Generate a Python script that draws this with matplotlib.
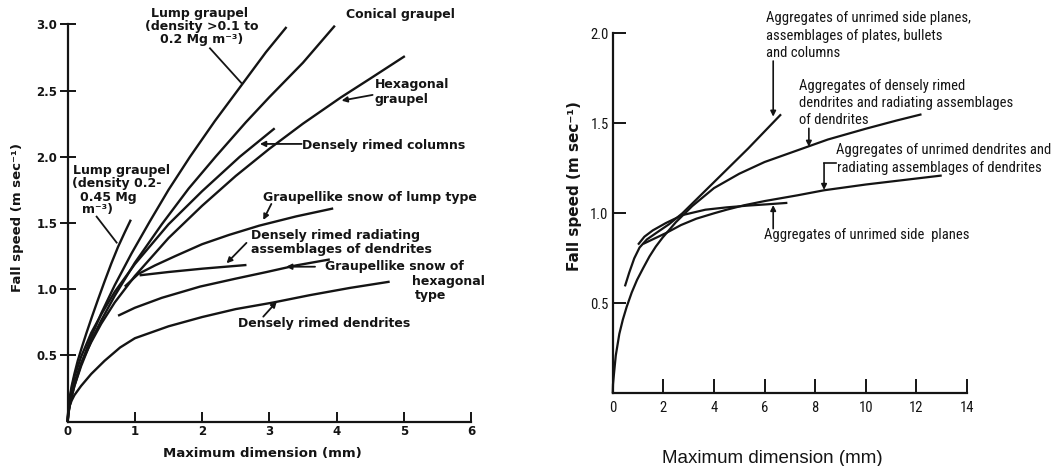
import matplotlib
matplotlib.use("Agg")
import matplotlib.pyplot as plt
from matplotlib import font_manager

# ---------------- data ----------------
# Left panel: fall speed (m/s) vs maximum dimension (mm)
lump_dense_x = [0, 0.01, 0.03, 0.06, 0.1, 0.15, 0.21, 0.28, 0.36, 0.45, 0.55, 0.65, 0.75, 0.85, 0.94]
lump_dense_v = [0, 0.09, 0.18, 0.27, 0.36, 0.46, 0.56, 0.67, 0.79, 0.92, 1.06, 1.195, 1.32, 1.43, 1.525]

lump_light_x = [0, 0.01, 0.03, 0.06, 0.1, 0.2, 0.35, 0.5, 0.7, 0.95, 1.22, 1.5, 1.82, 2.19, 2.6, 2.95, 3.256]
lump_light_v = [0, 0.055, 0.117, 0.19, 0.27, 0.434, 0.64, 0.818, 1.03, 1.27, 1.51, 1.75, 2.0, 2.27, 2.55, 2.79, 2.98]

conical_x = [0, 0.01, 0.03, 0.06, 0.1, 0.2, 0.35, 0.5, 0.7, 1.0, 1.4, 1.8, 2.2, 2.65, 3.0, 3.5, 3.975]
conical_v = [0, 0.06, 0.123, 0.19, 0.269, 0.42, 0.61, 0.765, 0.95, 1.2, 1.49, 1.76, 2.0, 2.26, 2.45, 2.71, 2.99]

hexagonal_x = [0, 0.01, 0.03, 0.06, 0.1, 0.2, 0.35, 0.5, 0.7, 1.0, 1.5, 2.0, 2.5, 3.0, 3.5, 4.07, 4.5, 5.016]
hexagonal_v = [0, 0.08, 0.148, 0.22, 0.296, 0.44, 0.60, 0.74, 0.90, 1.1, 1.386, 1.63, 1.855, 2.06, 2.25, 2.45, 2.59, 2.76]

columns_x = [0, 0.01, 0.03, 0.06, 0.1, 0.2, 0.35, 0.5, 0.7, 1.0, 1.5, 2.0, 2.56, 3.08]
columns_v = [0, 0.094, 0.17, 0.25, 0.34, 0.49, 0.67, 0.81, 0.98, 1.19, 1.49, 1.74, 2.0, 2.215]

gs_lump_x = [0.85, 1.05, 1.3, 1.6, 2.0, 2.4, 2.85, 3.4, 3.95]
gs_lump_v = [1.02, 1.115, 1.18, 1.25, 1.34, 1.41, 1.48, 1.55, 1.61]

rimed_radiating_x = [1.07, 1.5, 2.0, 2.66]
rimed_radiating_v = [1.105, 1.13, 1.155, 1.183]

gs_hex_x = [0.75, 1.0, 1.4, 1.97, 2.5, 2.96, 3.4, 3.9]
gs_hex_v = [0.80, 0.86, 0.935, 1.02, 1.08, 1.13, 1.18, 1.225]

rimed_dendrites_x = [0, 0.01, 0.03, 0.06, 0.1, 0.2, 0.35, 0.55, 0.78, 1.0, 1.5, 2.0, 2.5, 3.06, 3.6, 4.2, 4.79]
rimed_dendrites_v = [0, 0.07, 0.12, 0.16, 0.2, 0.27, 0.36, 0.46, 0.56, 0.63, 0.72, 0.79, 0.85, 0.9, 0.955, 1.01, 1.057]

# Right panel: aggregates
agg_rimed_x = [0, 0.01, 0.05, 0.12, 0.26, 0.4, 0.55, 0.75, 0.96, 1.2, 1.45, 1.7, 1.97, 2.49, 3.14,
               4.0, 5.0, 6.0, 7.3, 8.5, 10.0, 11.2, 12.2]
agg_rimed_v = [0, 0.05, 0.11, 0.21, 0.33, 0.41, 0.48, 0.56, 0.63, 0.695, 0.76, 0.815, 0.865, 0.95, 1.04,
               1.14, 1.22, 1.285, 1.35, 1.41, 1.47, 1.515, 1.55]

agg_planes_cols_x = [0.48, 0.65, 0.85, 1.06, 1.35, 1.71, 2.23, 2.75, 3.4, 4.05, 4.7, 5.35, 6.0, 6.65]
agg_planes_cols_v = [0.594, 0.67, 0.75, 0.81, 0.855, 0.89, 0.94, 1.0, 1.09, 1.18, 1.27, 1.36, 1.455, 1.55]

agg_unrimed_dend_x = [1.2, 1.5, 2.1, 2.7, 3.3, 4.0, 4.5, 5.2, 6.0, 7.3, 8.35, 10.0, 11.5, 13.0]
agg_unrimed_dend_v = [0.83, 0.85, 0.89, 0.935, 0.97, 1.0, 1.02, 1.045, 1.068, 1.10, 1.128, 1.16, 1.185, 1.21]

agg_side_planes_x = [1.0, 1.25, 1.58, 2.1, 2.75, 3.66, 4.5, 5.35, 6.1, 6.9]
agg_side_planes_v = [0.826, 0.87, 0.905, 0.946, 0.99, 1.02, 1.033, 1.043, 1.05, 1.058]

left_xticks = [0, 1, 2, 3, 4, 5, 6]
left_yticks = [0.5, 1.0, 1.5, 2.0, 2.5, 3.0]
right_xticks = [0, 2, 4, 6, 8, 10, 12, 14]
right_yticks = [0.5, 1.0, 1.5, 2.0]

# ---------------- fonts ----------------
entries = font_manager.fontManager.ttflist
available = {f.name for f in entries}
NSTRETCH = "normal"
if "Liberation Sans Narrow" in available:
    NARROW, NSCALE = "Liberation Sans Narrow", 1.0
elif "Roboto Condensed" in available:
    NARROW, NSCALE = "Roboto Condensed", 1.0
elif any(f.name == "DejaVu Sans" and "condensed" in str(f.stretch) for f in entries):
    NARROW, NSCALE, NSTRETCH = "DejaVu Sans", 0.9, "condensed"
elif "Roboto" in available:
    NARROW, NSCALE = "Roboto", 0.9
else:
    NARROW, NSCALE = "DejaVu Sans", 0.78
REG = "Liberation Sans" if "Liberation Sans" in available else "DejaVu Sans"
BOLD = "DejaVu Sans"

INK = "#141414"
plt.rcParams["font.family"] = ["DejaVu Sans"]

fig = plt.figure(figsize=(10.57, 4.66), dpi=100)
fig.patch.set_facecolor("white")

# ---------------- left panel ----------------
axL = fig.add_axes([0.0640, 0.0951, 0.3816, 0.8527])
axL.set_xlim(0, 6)
axL.set_ylim(0, 3.0)
for s in ("top", "right"):
    axL.spines[s].set_visible(False)
for s in ("left", "bottom"):
    axL.spines[s].set_linewidth(1.6)
    axL.spines[s].set_color(INK)

lw = 1.7
for xs, vs in [(lump_dense_x, lump_dense_v), (lump_light_x, lump_light_v),
               (conical_x, conical_v), (hexagonal_x, hexagonal_v),
               (columns_x, columns_v), (gs_lump_x, gs_lump_v),
               (rimed_radiating_x, rimed_radiating_v), (gs_hex_x, gs_hex_v),
               (rimed_dendrites_x, rimed_dendrites_v)]:
    axL.plot(xs, vs, color=INK, lw=lw, solid_capstyle="butt", clip_on=False)

axL.set_xticks(left_xticks)
axL.set_xticklabels([str(t) for t in left_xticks])
axL.set_yticks(left_yticks)
axL.set_yticklabels([f"{t:.1f}" for t in left_yticks])
axL.tick_params(axis="x", direction="in", length=7, width=1.4, pad=2.5, colors=INK)
axL.tick_params(axis="y", direction="inout", length=11, width=1.4, pad=2, colors=INK)
for lab in axL.get_xticklabels() + axL.get_yticklabels():
    lab.set_fontfamily(BOLD)
    lab.set_fontweight("bold")
    lab.set_fontsize(8.5)

axL.text(0.484, -0.079, "Maximum dimension (mm)", transform=axL.transAxes,
         ha="center", va="center", fontsize=9.5, fontweight="bold", color=INK)
axL.text(-0.125, 0.515, "Fall speed (m sec\u207b\u00b9)", transform=axL.transAxes,
         rotation=90, ha="center", va="center", fontsize=9.5, fontweight="bold", color=INK)

tkw = dict(fontsize=9, fontweight="bold", color=INK, va="center", clip_on=False)

axL.text(1.96, 3.083, "Lump graupel", ha="center", **tkw)
axL.text(1.99, 2.983, "(density >0.1 to", ha="center", **tkw)
axL.text(1.99, 2.882, "0.2 Mg m\u207b\u00b3)", ha="center", **tkw)
axL.text(4.95, 3.071, "Conical graupel", ha="center", **tkw)
axL.text(4.57, 2.542, "Hexagonal", ha="left", **tkw)
axL.text(4.57, 2.429, "graupel", ha="left", **tkw)
axL.text(3.48, 2.082, "Densely rimed columns", ha="left", **tkw)
axL.text(2.91, 1.694, "Graupellike snow of lump type", ha="left", **tkw)
axL.text(2.72, 1.402, "Densely rimed radiating", ha="left", **tkw)
axL.text(2.72, 1.301, "assemblages of dendrites", ha="left", **tkw)
axL.text(3.83, 1.170, "Graupellike snow of", ha="left", **tkw)
axL.text(5.12, 1.062, "hexagonal", ha="left", **tkw)
axL.text(5.17, 0.956, "type", ha="left", **tkw)
axL.text(2.54, 0.743, "Densely rimed dendrites", ha="left", **tkw)
axL.text(0.084, 1.900, "Lump graupel", ha="left", **tkw)
axL.text(0.06, 1.800, "(density 0.2-", ha="left", **tkw)
axL.text(0.18, 1.694, "0.45 Mg", ha="left", **tkw)
axL.text(0.21, 1.603, "m\u207b\u00b3)", ha="left", **tkw)

akw = dict(arrowstyle="-|>", lw=1.3, color=INK, mutation_scale=8, shrinkA=0, shrinkB=0)
for (x0, y0), (x1, y1) in [((4.536, 2.467), (4.075, 2.424)),
                           ((3.48, 2.097), (2.86, 2.097)),
                           ((3.03, 1.644), (2.91, 1.523)),
                           ((2.66, 1.35), (2.364, 1.196)),
                           ((3.68, 1.17), (3.25, 1.17)),
                           ((2.91, 0.793), (3.11, 0.906))]:
    axL.annotate("", xy=(x1, y1), xytext=(x0, y0), arrowprops=akw, annotation_clip=False)
for (x0, y0), (x1, y1) in [((2.117, 2.819), (2.588, 2.555)),
                           ((0.431, 1.548), (0.729, 1.352))]:
    axL.plot([x0, x1], [y0, y1], color=INK, lw=1.3, clip_on=False)

# ---------------- right panel ----------------
axR = fig.add_axes([0.5797, 0.1560, 0.3352, 0.7725])
axR.set_xlim(0, 14)
axR.set_ylim(0, 2.0)
for s in ("top", "right"):
    axR.spines[s].set_visible(False)
for s in ("left", "bottom"):
    axR.spines[s].set_linewidth(1.6)
    axR.spines[s].set_color(INK)

for xs, vs in [(agg_rimed_x, agg_rimed_v), (agg_planes_cols_x, agg_planes_cols_v),
               (agg_unrimed_dend_x, agg_unrimed_dend_v), (agg_side_planes_x, agg_side_planes_v)]:
    axR.plot(xs, vs, color=INK, lw=1.6, solid_capstyle="butt", clip_on=False)

axR.set_xticks(right_xticks)
axR.set_xticklabels([str(t) for t in right_xticks])
axR.set_yticks(right_yticks)
axR.set_yticklabels([f"{t:.1f}" for t in right_yticks])
axR.tick_params(axis="x", direction="in", length=10, width=1.4, pad=5.5, colors=INK)
axR.tick_params(axis="y", direction="in", length=9, width=1.4, pad=3, colors=INK)
for lab in axR.get_xticklabels() + axR.get_yticklabels():
    lab.set_fontfamily(NARROW)
    lab.set_fontstretch(NSTRETCH)
    lab.set_fontsize(10.5 * NSCALE)

axR.text(0.45, -0.18, "Maximum dimension (mm)", transform=axR.transAxes,
         ha="center", va="center", fontsize=13.5, family=REG, color=INK)
axR.text(-0.109, 0.576, "Fall speed (m sec\u207b\u00b9)", transform=axR.transAxes,
         rotation=90, ha="center", va="center", fontsize=11, fontweight="bold", color=INK)

rkw = dict(fontsize=10.5 * NSCALE, family=NARROW, fontstretch=NSTRETCH, color=INK,
           va="center", ha="left", clip_on=False)
axR.text(6.04, 2.083, "Aggregates of unrimed side planes,", **rkw)
axR.text(6.04, 1.985, "assemblages of plates, bullets", **rkw)
axR.text(6.04, 1.889, "and columns", **rkw)
axR.text(7.37, 1.707, "Aggregates of densely rimed", **rkw)
axR.text(7.37, 1.615, "dendrites and radiating assemblages", **rkw)
axR.text(7.37, 1.519, "of dendrites", **rkw)
axR.text(8.82, 1.352, "Aggregates of unrimed dendrites and", **rkw)
axR.text(8.88, 1.250, "radiating assemblages of dendrites", **rkw)
axR.text(5.98, 0.880, "Aggregates of unrimed side  planes", **rkw)

akw2 = dict(arrowstyle="-|>", lw=1.2, color=INK, mutation_scale=8, shrinkA=0, shrinkB=0)
for (x0, y0), (x1, y1) in [((6.34, 1.846), (6.34, 1.537)),
                           ((7.75, 1.472), (7.75, 1.37)),
                           ((8.35, 1.278), (8.35, 1.13)),
                           ((6.34, 0.915), (6.34, 1.046))]:
    axR.annotate("", xy=(x1, y1), xytext=(x0, y0), arrowprops=akw2, annotation_clip=False)
axR.plot([8.82, 8.35], [1.278, 1.278], color=INK, lw=1.2, clip_on=False)

fig.savefig("out.png", dpi=100, facecolor="white")
